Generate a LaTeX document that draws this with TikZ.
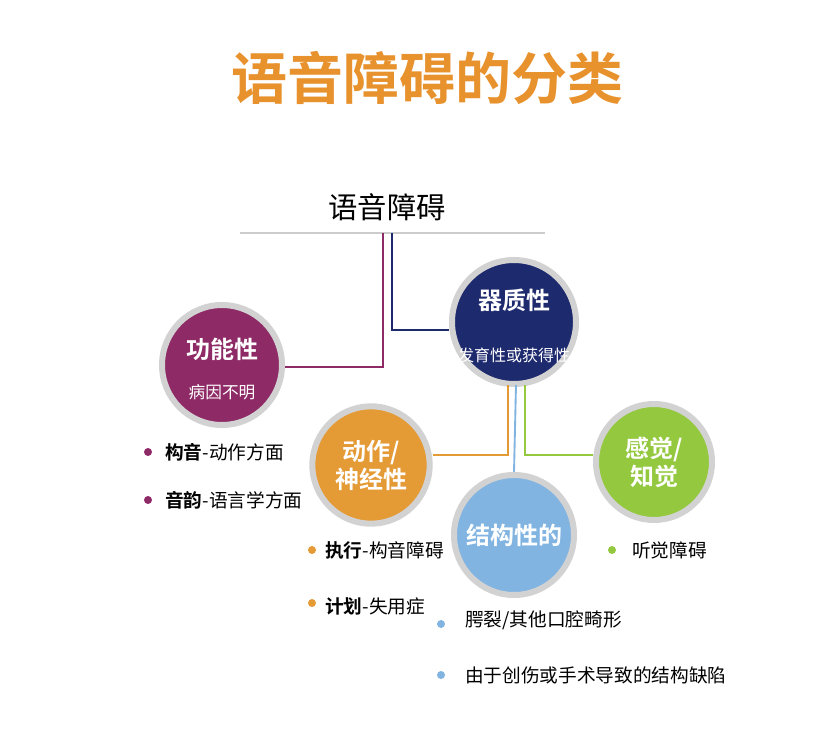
\documentclass[tikz,border=0pt]{standalone}
\usepackage{fontspec}
\newfontfamily\cjk{Noto Sans CJK SC}
\newfontfamily\cjkb{Noto Sans CJK SC Bold}
\begin{document}
\begin{tikzpicture}[x=0.75pt,y=-0.75pt]
\definecolor{torange}{HTML}{E8922E}
\definecolor{cnavy}{HTML}{1E2A6E}
\definecolor{cpurple}{HTML}{8E2A66}
\definecolor{corange}{HTML}{E49A35}
\definecolor{cblue}{HTML}{82B4E2}
\definecolor{cgreen}{HTML}{93C83F}
\tikzset{
 bubble/.style={circle,draw=gray!35,line width=4.5pt,text=white,align=center,font=\cjkb\fontsize{18}{21}\selectfont,inner sep=0pt},
 conn/.style={line width=1.4pt},
 bul/.style={anchor=west,font=\cjk\fontsize{14}{16}\selectfont,inner sep=0pt},
 dot/.style={circle,inner sep=0pt,minimum size=6pt}
}
\useasboundingbox[fill=white] (0,0) rectangle (828,752);
\node[font=\cjkb\fontsize{42}{46}\selectfont,text=torange] (title) at (427,78) {语音障碍的分类};
\node[font=\cjk\fontsize{22}{26}\selectfont] (root) at (387,207) {语音障碍};
\draw[gray!40,line width=0.8pt] (240,233) -- (545,233);
\coordinate (rp) at (383,233);
\coordinate (rn) at (392,233);
\node[bubble,fill=cnavy,minimum size=93pt] (oq) at (514,322) {};
\node[text=white,font=\cjkb\fontsize{18}{21}\selectfont] at (514,300) {器质性};
\node[text=white,font=\cjk\fontsize{12}{14}\selectfont] at (514,355) {发育性或获得性};
\node[bubble,fill=cpurple,minimum size=90pt] (fn) at (222,365) {};
\node[text=white,font=\cjkb\fontsize{18}{21}\selectfont] at (222,349) {功能性};
\node[text=white,font=\cjk\fontsize{12.5}{14}\selectfont] at (222,392) {病因不明};
\node[bubble,fill=corange,minimum size=88pt] (mo) at (371,465) {动作/\\神经性};
\node[bubble,fill=cblue,minimum size=90pt] (st) at (514,535) {结构性的};
\node[bubble,fill=cgreen,minimum size=87pt] (se) at (654,462) {感觉/\\知觉};
\draw[conn,cpurple] (rp) |- (fn.east|-0,367);
\draw[conn,cnavy] (rn) |- (oq.west|-0,330);
\draw[conn,corange] (508,385) |- (mo.east|-0,455);
\draw[conn,cblue] (516,385) -- (st.north);
\draw[conn,cgreen] (525,385) |- (se.west|-0,455);
% bullets
\node[dot,fill=cpurple] at (148,452) {};
\node[bul] at (165,452) {{\cjkb 构音}-动作方面};
\node[dot,fill=cpurple] at (148,500) {};
\node[bul] at (165,500) {{\cjkb 音韵}-语言学方面};
\node[dot,fill=corange] at (312,550) {};
\node[bul] at (325,550) {{\cjkb 执行}-构音障碍};
\node[dot,fill=corange] at (312,603) {};
\node[bul] at (325,606) {{\cjkb 计划}-失用症};
\node[dot,fill=cblue] at (441,624) {};
\node[bul] at (465,620) {腭裂/其他口腔畸形};
\node[dot,fill=cblue] at (441,675) {};
\node[bul] at (465,675) {由于创伤或手术导致的结构缺陷};
\node[dot,fill=cgreen] at (612,550) {};
\node[bul] at (632,550) {听觉障碍};
\end{tikzpicture}
\end{document}
